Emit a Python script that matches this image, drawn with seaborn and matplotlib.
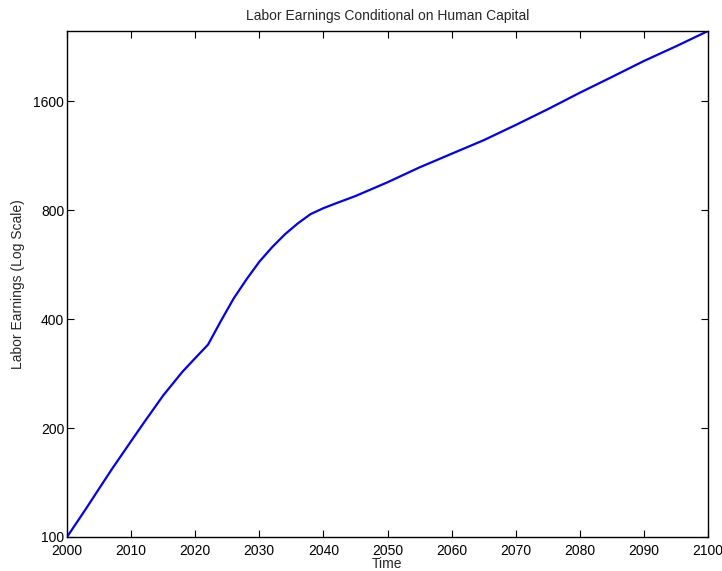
import matplotlib
matplotlib.use("Agg")
import matplotlib.pyplot as plt
import seaborn as sns
import pandas as pd
from matplotlib.ticker import FixedLocator, FixedFormatter, NullLocator

years = [2000, 2003, 2005, 2007, 2010, 2012, 2015, 2018, 2020, 2022, 2024, 2026,
         2028, 2030, 2032, 2034, 2036, 2038, 2040, 2042, 2045, 2050, 2055, 2060,
         2065, 2070, 2075, 2080, 2085, 2090, 2095, 2100]
earnings = [100, 120, 136, 154, 184, 207, 246, 286, 312, 340, 395, 456,
            515, 576, 632, 686, 735, 780, 810, 836, 875, 955, 1050, 1145,
            1248, 1375, 1520, 1688, 1866, 2066, 2268, 2500]
x_ticks = [2000, 2010, 2020, 2030, 2040, 2050, 2060, 2070, 2080, 2090, 2100]
y_ticks = [100, 200, 400, 800, 1600]
y_tick_labels = ["100", "200", "400", "800", "1600"]

sns.set_style("ticks")
plt.rcParams['font.family'] = ['Liberation Sans', 'DejaVu Sans']

df = pd.DataFrame({"Time": years, "Earnings": earnings})

fig = plt.figure(figsize=(7.22, 5.71), dpi=100)
ax = fig.add_axes([67 / 722, 34 / 571, (708 - 67) / 722, (537 - 31) / 571])
sns.lineplot(data=df, x="Time", y="Earnings", ax=ax, color=(0, 0, 1), linewidth=1.6)
ax.set_yscale("log")
ax.set_xlim(2000, 2100)
ax.set_ylim(100, 2500)
ax.xaxis.set_major_locator(FixedLocator(x_ticks))
ax.yaxis.set_major_locator(FixedLocator(y_ticks))
ax.yaxis.set_major_formatter(FixedFormatter(y_tick_labels))
ax.yaxis.set_minor_locator(NullLocator())
ax.xaxis.set_minor_locator(NullLocator())

for s in ax.spines.values():
    s.set_visible(True)
    s.set_color("black")
    s.set_linewidth(1.0)
ax.tick_params(axis="both", which="major", direction="in", length=5, width=0.8,
               top=True, right=True, labelsize=10, colors="black")
ax.tick_params(axis="x", pad=5)
ax.tick_params(axis="y", pad=2)

ax.set_title("Labor Earnings Conditional on Human Capital", fontsize=10, pad=8)
ax.set_xlabel("Time", fontsize=10, labelpad=-1)
ax.set_ylabel("Labor Earnings (Log Scale)", fontsize=10, labelpad=6)

fig.savefig("out.png", dpi=100)
